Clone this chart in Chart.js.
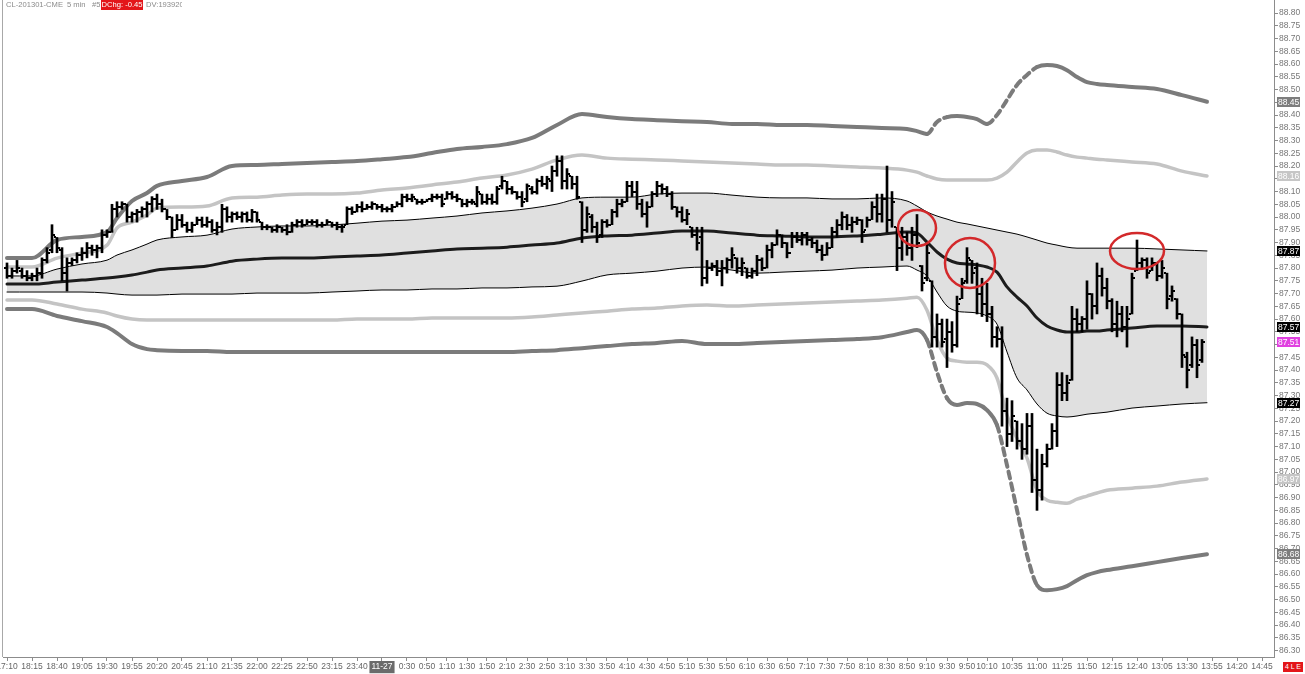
<!DOCTYPE html>
<html>
<head>
<meta charset="utf-8">
<script src="https://cdn.jsdelivr.net/npm/chart.js@4.4.0/dist/chart.umd.min.js"></script>
<style>
  html, body { margin: 0; padding: 0; background: #fff; }
  #wrap { position: relative; width: 1305px; height: 674px; overflow: hidden; }
  canvas { position: absolute; left: 0; top: 0; }
  .t { position: absolute; top: 0; height: 10px; font: 7.6px "Liberation Sans", Arial, sans-serif; color: #8a8a8a; line-height: 10px; white-space: nowrap; overflow: hidden; }
  .red { background: #e3161a; color: #fff; text-align: center; }
  #edge { position: absolute; left: 2px; top: 0; width: 1px; height: 657px; background: #a8a8a8; }
  #le { position: absolute; left: 1283px; top: 662px; width: 20px; height: 10px; background: #e3161a; color: #fff; font: 7px "Liberation Sans", Arial, sans-serif; line-height: 10px; text-align: center; }
</style>
</head>
<body>
<div id="wrap">
  <canvas id="chart" width="1305" height="674"></canvas>
  <div id="edge"></div>
  <div class="t" style="left:6px">CL-201301-CME</div>
  <div class="t" style="left:67px">5 min</div>
  <div class="t" style="left:92px">#5</div>
  <div class="t red" style="left:101px;width:42px">DChg: -0.45</div>
  <div class="t" style="left:146px;width:36px">DV:193920</div>
  <div id="le">4 L E</div>
</div>
<script>
// 5 min bars, index 0 = 17:10 ... 239 = 13:45
const highs = [
  87.82,87.80,87.83,87.80,87.79,87.78,87.80,87.84,87.88,87.97,
  87.92,87.88,87.84,87.84,87.86,87.88,87.90,87.89,87.89,87.95,
  87.95,88.05,88.06,88.06,88.05,88.02,88.03,88.04,88.06,88.08,
  88.09,88.07,88.03,88.00,88.01,88.01,87.98,87.98,88.00,88.00,
  88.00,87.99,87.98,88.05,88.04,88.02,88.02,88.02,88.02,88.03,
  88.02,87.98,87.97,87.96,87.97,87.96,87.97,87.98,87.99,87.99,
  87.99,87.99,87.99,87.98,87.99,87.98,87.98,87.97,88.04,88.04,
  88.05,88.06,88.05,88.06,88.05,88.05,88.04,88.05,88.06,88.09,
  88.09,88.09,88.07,88.07,88.07,88.09,88.09,88.09,88.10,88.10,
  88.09,88.07,88.07,88.07,88.12,88.09,88.09,88.09,88.12,88.16,
  88.14,88.12,88.10,88.10,88.13,88.12,88.15,88.16,88.16,88.20,
  88.24,88.24,88.19,88.16,88.16,88.06,88.04,88.01,87.98,87.99,
  87.99,88.03,88.07,88.07,88.14,88.14,88.14,88.07,88.06,88.10,
  88.14,88.13,88.12,88.10,88.04,88.04,88.03,87.96,87.96,87.96,
  87.83,87.82,87.83,87.83,87.84,87.88,87.84,87.84,87.80,87.80,
  87.85,87.84,87.89,87.90,87.95,87.93,87.90,87.94,87.94,87.94,
  87.94,87.92,87.91,87.89,87.90,87.96,87.99,88.02,88.01,88.00,
  88.00,87.99,88.00,88.06,88.09,88.09,88.20,88.10,87.96,87.96,
  87.94,87.96,88.01,87.81,87.90,87.75,87.62,87.60,87.60,87.59,
  87.69,87.76,87.88,87.83,87.82,87.76,87.74,87.65,87.57,87.57,
  87.29,87.28,87.20,87.19,87.23,87.23,87.09,87.07,87.11,87.19,
  87.39,87.39,87.38,87.65,87.64,87.61,87.75,87.70,87.82,87.80,
  87.76,87.68,87.67,87.65,87.65,87.78,87.91,87.84,87.84,87.84,
  87.82,87.83,87.78,87.73,87.68,87.62,87.47,87.53,87.52,87.52
];
const lows = [
  87.76,87.76,87.78,87.76,87.75,87.75,87.75,87.76,87.82,87.86,
  87.86,87.75,87.71,87.81,87.82,87.83,87.84,87.85,87.84,87.86,
  87.92,87.94,88.00,88.03,87.98,87.98,87.98,88.00,88.00,88.02,
  88.03,88.02,87.99,87.92,87.95,87.96,87.94,87.94,87.97,87.96,
  87.96,87.94,87.93,87.94,87.98,87.98,87.99,87.98,87.98,87.98,
  87.98,87.95,87.95,87.94,87.94,87.94,87.93,87.94,87.96,87.96,
  87.97,87.97,87.96,87.96,87.97,87.96,87.95,87.94,87.97,88.01,
  88.02,88.02,88.03,88.03,88.03,88.02,88.02,88.02,88.04,88.04,
  88.06,88.06,88.05,88.05,88.06,88.06,88.07,88.04,88.07,88.07,
  88.06,88.04,88.04,88.05,88.04,88.05,88.05,88.05,88.05,88.11,
  88.09,88.09,88.07,88.04,88.06,88.09,88.09,88.12,88.11,88.10,
  88.16,88.11,88.11,88.11,88.07,87.90,87.94,87.94,87.90,87.92,
  87.96,87.97,88.00,88.04,88.06,88.08,88.03,88.00,87.96,88.04,
  88.08,88.09,88.08,88.03,88.00,87.98,87.97,87.92,87.87,87.73,
  87.74,87.79,87.77,87.73,87.78,87.80,87.78,87.77,87.76,87.76,
  87.77,87.79,87.80,87.84,87.89,87.88,87.84,87.88,87.90,87.89,
  87.89,87.88,87.86,87.83,87.85,87.88,87.92,87.95,87.95,87.94,
  87.97,87.90,87.96,87.99,87.98,87.98,87.94,87.96,87.79,87.83,
  87.85,87.83,87.88,87.71,87.75,87.49,87.49,87.49,87.41,87.47,
  87.49,87.68,87.74,87.74,87.62,87.61,87.59,87.49,87.49,87.18,
  87.10,87.12,87.09,87.05,87.07,86.92,86.85,86.89,87.02,87.09,
  87.10,87.28,87.28,87.36,87.55,87.55,87.56,87.60,87.62,87.69,
  87.64,87.55,87.53,87.55,87.49,87.62,87.79,87.80,87.76,87.79,
  87.75,87.76,87.64,87.67,87.60,87.41,87.33,87.41,87.37,87.43
];
const opens = [
  87.80,87.77,87.79,87.79,87.77,87.76,87.77,87.78,87.83,87.87,
  87.92,87.87,87.78,87.82,87.83,87.85,87.86,87.88,87.87,87.88,
  87.93,87.94,88.03,88.04,88.05,88.00,88.01,88.02,88.03,88.05,
  88.07,88.05,88.03,88.00,87.95,87.99,87.97,87.95,87.97,87.99,
  87.97,87.98,87.95,87.96,88.03,88.00,88.01,88.00,88.01,87.99,
  88.02,87.98,87.96,87.96,87.95,87.96,87.95,87.94,87.97,87.98,
  87.97,87.98,87.98,87.97,87.97,87.98,87.97,87.96,87.97,88.03,
  88.02,88.04,88.03,88.04,88.05,88.04,88.03,88.03,88.04,88.05,
  88.08,88.07,88.07,88.06,88.06,88.07,88.08,88.08,88.07,88.09,
  88.08,88.07,88.05,88.06,88.05,88.09,88.06,88.07,88.06,88.12,
  88.14,88.11,88.10,88.08,88.07,88.11,88.10,88.14,88.13,88.14,
  88.18,88.22,88.14,88.16,88.13,88.06,87.95,88.00,87.96,87.93,
  87.98,87.97,88.02,88.05,88.06,88.12,88.10,88.05,88.01,88.04,
  88.09,88.12,88.11,88.09,88.04,88.02,87.99,87.96,87.93,87.92,
  87.76,87.80,87.81,87.79,87.80,87.83,87.84,87.80,87.80,87.77,
  87.79,87.83,87.80,87.87,87.89,87.93,87.90,87.86,87.92,87.91,
  87.93,87.91,87.90,87.87,87.85,87.88,87.94,87.97,88.00,87.97,
  87.98,87.99,87.95,87.99,88.04,88.01,88.07,87.99,87.96,87.88,
  87.92,87.88,87.93,87.81,87.76,87.75,87.53,87.58,87.52,87.55,
  87.50,87.68,87.75,87.83,87.80,87.70,87.66,87.62,87.53,87.52,
  87.24,87.15,87.20,87.12,87.09,87.18,86.97,86.93,87.03,87.09,
  87.16,87.34,87.31,87.36,87.60,87.58,87.60,87.70,87.65,87.77,
  87.72,87.67,87.58,87.62,87.57,87.62,87.79,87.82,87.83,87.79,
  87.82,87.77,87.78,87.69,87.68,87.62,87.45,87.42,87.50,87.44
];
const closes = [
  87.77,87.79,87.80,87.77,87.76,87.77,87.78,87.83,87.86,87.93,
  87.88,87.78,87.82,87.83,87.85,87.86,87.88,87.87,87.88,87.93,
  87.94,88.03,88.04,88.05,88.00,88.01,88.02,88.03,88.05,88.07,
  88.05,88.03,88.00,87.95,87.99,87.97,87.95,87.97,87.99,87.97,
  87.98,87.95,87.96,88.03,88.00,88.01,88.00,88.01,87.99,88.02,
  87.99,87.96,87.96,87.95,87.96,87.95,87.94,87.97,87.98,87.97,
  87.98,87.98,87.97,87.97,87.98,87.97,87.96,87.96,88.03,88.02,
  88.04,88.03,88.04,88.05,88.04,88.03,88.03,88.04,88.05,88.08,
  88.07,88.08,88.06,88.06,88.07,88.08,88.08,88.05,88.09,88.08,
  88.07,88.05,88.06,88.06,88.10,88.06,88.07,88.06,88.11,88.14,
  88.11,88.10,88.08,88.06,88.12,88.10,88.14,88.13,88.15,88.18,
  88.22,88.14,88.17,88.13,88.08,87.95,88.01,87.96,87.92,87.98,
  87.97,88.02,88.05,88.06,88.12,88.10,88.05,88.01,88.04,88.09,
  88.12,88.11,88.09,88.04,88.02,87.99,88.01,87.93,87.90,87.76,
  87.80,87.81,87.79,87.80,87.83,87.85,87.80,87.82,87.77,87.79,
  87.83,87.80,87.87,87.89,87.93,87.90,87.86,87.92,87.91,87.93,
  87.91,87.90,87.87,87.85,87.88,87.94,87.97,88.00,87.97,87.98,
  87.99,87.94,87.99,88.04,88.01,88.07,87.99,88.06,87.88,87.92,
  87.88,87.93,87.90,87.74,87.86,87.53,87.58,87.51,87.55,87.50,
  87.66,87.74,87.84,87.78,87.70,87.66,87.62,87.53,87.52,87.24,
  87.15,87.22,87.12,87.09,87.18,86.97,86.93,87.03,87.09,87.16,
  87.34,87.31,87.35,87.60,87.58,87.60,87.70,87.65,87.77,87.72,
  87.67,87.58,87.62,87.57,87.60,87.76,87.82,87.83,87.78,87.82,
  87.77,87.80,87.68,87.71,87.62,87.46,87.40,87.50,87.42,87.51
];

// bar index at which the band values were read
const bandIdx = [0,5,10,15,20,22,25,28,30,35,40,45,50,55,60,65,70,75,80,85,90,95,100,105,110,115,120,125,130,135,140,145,150,155,160,165,170,175,180,
  182,184,186,188,190,192,194,196,198,200,202,204,206,208,210,212,214,216,218,220,225,230,235,240];
const outerUpper = [87.839,87.839,87.910,87.922,87.941,87.996,88.063,88.094,88.122,
  88.141,88.157,88.200,88.204,88.208,88.212,88.216,88.220,88.227,88.235,88.251,88.267,88.275,88.286,88.310,88.361,88.404,88.392,88.384,88.380,88.376,88.373,88.365,88.365,88.361,88.361,88.357,88.353,88.349,88.345,
  88.337,88.326,88.373,88.392,88.396,88.392,88.384,88.365,88.400,88.459,88.518,88.557,88.588,88.596,88.592,88.576,88.549,88.529,88.522,88.518,
  88.510,88.502,88.478,88.452];
const innerUpper = [87.804,87.804,87.839,87.859,87.890,87.957,87.980,88.008,88.035,
  88.039,88.043,88.075,88.078,88.086,88.090,88.090,88.094,88.106,88.114,88.126,88.137,88.153,88.165,88.188,88.224,88.243,88.231,88.227,88.224,88.220,88.216,88.212,88.208,88.204,88.204,88.200,88.196,88.192,88.184,
  88.176,88.161,88.149,88.145,88.145,88.145,88.145,88.145,88.153,88.176,88.216,88.251,88.263,88.263,88.255,88.243,88.235,88.231,88.227,88.224,
  88.216,88.208,88.180,88.161];
const sigmaUpper = [87.769,87.769,87.796,87.816,87.831,87.851,87.871,87.894,87.910,
  87.922,87.929,87.953,87.961,87.965,87.965,87.969,87.976,87.984,87.988,87.996,88.004,88.016,88.024,88.035,88.051,88.075,88.078,88.078,88.090,88.094,88.094,88.086,88.078,88.075,88.075,88.071,88.071,88.075,88.063,
  88.043,88.020,88.004,87.992,87.980,87.973,87.965,87.957,87.949,87.941,87.933,87.922,87.910,87.898,87.890,87.882,87.878,87.878,87.878,87.878,
  87.878,87.875,87.871,87.867];
const vwap = [87.737,87.737,87.745,87.753,87.761,87.765,87.773,87.784,87.792,
  87.800,87.808,87.827,87.835,87.839,87.839,87.843,87.847,87.851,87.859,87.867,87.875,87.878,87.882,87.890,87.898,87.918,87.926,87.929,87.937,87.945,87.945,87.937,87.929,87.926,87.922,87.922,87.926,87.933,87.941,
  87.937,87.902,87.863,87.835,87.820,87.816,87.812,87.804,87.784,87.726,87.686,87.651,87.604,87.573,87.557,87.549,87.549,87.553,87.553,87.557,
  87.565,87.573,87.573,87.569];
const sigmaLower = [87.706,87.706,87.706,87.706,87.702,87.698,87.694,87.694,87.694,
  87.698,87.698,87.698,87.702,87.702,87.702,87.706,87.710,87.714,87.714,87.718,87.718,87.722,87.722,87.726,87.729,87.749,87.773,87.780,87.788,87.800,87.804,87.792,87.780,87.784,87.788,87.792,87.800,87.804,87.808,
  87.792,87.769,87.706,87.651,87.631,87.627,87.624,87.612,87.580,87.471,87.369,87.322,87.267,87.231,87.220,87.216,87.220,87.227,87.231,87.235,
  87.251,87.259,87.267,87.272];
const innerLower = [87.675,87.675,87.659,87.639,87.624,87.612,87.600,87.596,87.596,
  87.596,87.596,87.596,87.596,87.596,87.596,87.596,87.600,87.600,87.600,87.604,87.604,87.604,87.604,87.608,87.616,87.624,87.631,87.639,87.643,87.651,87.655,87.651,87.655,87.659,87.663,87.667,87.671,87.675,87.682,
  87.686,87.635,87.518,87.447,87.435,87.431,87.431,87.420,87.369,87.224,87.133,87.055,86.929,86.890,86.882,86.878,86.894,86.906,86.918,86.929,
  86.937,86.945,86.961,86.973];
const outerLower = [87.639,87.639,87.612,87.592,87.569,87.545,87.502,87.482,87.478,
  87.475,87.475,87.471,87.471,87.471,87.471,87.471,87.471,87.471,87.471,87.471,87.471,87.471,87.471,87.475,87.478,87.486,87.494,87.502,87.506,87.514,87.502,87.502,87.506,87.510,87.514,87.518,87.522,87.529,87.549,
  87.557,87.518,87.392,87.290,87.263,87.271,87.267,87.243,87.184,87.027,86.851,86.675,86.557,86.537,86.541,86.553,86.576,86.596,86.608,86.616,
  86.631,86.647,86.663,86.678];

// time axis labels and the bar index they sit on
const xTickIdx = [0,5,10,15,20,25,30,35,40,45,50,55,60,65,70,75,
  80,84,88,92,96,100,104,108,112,116,120,124,128,132,136,140,144,148,152,156,160,164,168,172,176,180,184,188,192,196,
  201,206,211,216,221,226,231,236,241,246,251];
const xTickLabels = ["17:10","18:15","18:40","19:05","19:30","19:55","20:20","20:45","21:10","21:35","22:00","22:25","22:50","23:15","23:40","11-27",
  "0:30","0:50","1:10","1:30","1:50","2:10","2:30","2:50","3:10","3:30","3:50","4:10","4:30","4:50","5:10","5:30","5:50","6:10","6:30","6:50","7:10","7:30","7:50","8:10","8:30","8:50","9:10","9:30","9:50","10:10",
  "10:35","11:00","11:25","11:50","12:15","12:40","13:05","13:30","13:55","14:20","14:45"];

// marked highs
const markIdx = [182, 192.6, 226];
const markPrice = [87.957, 87.820, 87.867];

const pts = arr => bandIdx.map((x, k) => ({ x: x, y: arr[k] }));
const dashIn = ranges => ctx => {
  const v = bandIdx[ctx.p0DataIndex];
  return ranges.some(r => v >= r[0] && v < r[1]) ? [7, 5] : undefined;
};
const band = (label, arr, color, width, order, extra) => Object.assign({
  type: 'line', label: label, data: pts(arr), borderColor: color, borderWidth: width,
  pointRadius: 0, cubicInterpolationMode: 'monotone', borderCapStyle: 'round',
  borderJoinStyle: 'round', fill: false, order: order
}, extra || {});

const FONT = { family: '"Liberation Sans", Arial, sans-serif', size: 8.5 };

// pin the plot box to the same pixels as the original platform
const pinArea = {
  id: 'pinArea',
  afterLayout(chart) {
    const ca = chart.chartArea;
    ca.left = 3; ca.right = 1274; ca.top = 0; ca.bottom = 657;
    ca.width = 1271; ca.height = 657;
    const { x, y } = chart.scales;
    x.left = 3; x.right = 1274; x.width = 1271; x.top = 657; x.bottom = 674; x.height = 17;
    y.left = 1274; y.right = 1305; y.width = 31; y.top = 0; y.bottom = 657; y.height = 657;
    x.configure();
    y.configure();
  }
};

const ohlcTicks = {
  id: 'ohlcTicks',
  afterDatasetsDraw(chart) {
    const { ctx, scales: { x, y } } = chart;
    ctx.save();
    ctx.fillStyle = '#000';
    opens.forEach((o, i) => {
      const px = Math.round(x.getPixelForValue(i));
      ctx.fillRect(px - 3, Math.round(y.getPixelForValue(o)) - 1, 2, 2);
      ctx.fillRect(px + 1, Math.round(y.getPixelForValue(closes[i])) - 1, 2, 2);
    });
    const radii = [[19, 18], [25, 25], [27, 18]];
    ctx.strokeStyle = '#d3292b';
    ctx.lineWidth = 2.5;
    markIdx.forEach((m, k) => {
      ctx.beginPath();
      ctx.ellipse(x.getPixelForValue(m), y.getPixelForValue(markPrice[k]), radii[k][0], radii[k][1], 0, 0, Math.PI * 2);
      ctx.stroke();
    });
    ctx.restore();
  }
};

const lastTags = {
  id: 'lastTags',
  afterDraw(chart) {
    const { ctx, scales: { y } } = chart;
    const last = a => a[a.length - 1];
    const tags = [
      [last(outerUpper), '#7d7d7d'], [last(innerUpper), '#c6c6c6'], [last(sigmaUpper), '#000'],
      [last(vwap), '#000'], [last(closes), '#e040e0'], [last(sigmaLower), '#000'],
      [last(innerLower), '#c6c6c6'], [last(outerLower), '#7d7d7d']
    ];
    ctx.save();
    ctx.font = '8.5px "Liberation Sans", Arial, sans-serif';
    ctx.textBaseline = 'middle';
    tags.forEach(([v, bg]) => {
      const py = Math.round(y.getPixelForValue(v));
      ctx.fillStyle = bg;
      ctx.fillRect(1277, py - 5, 23, 10);
      ctx.fillStyle = '#fff';
      ctx.fillText(v.toFixed(2), 1278, py + 0.5);
    });
    ctx.restore();
  }
};

new Chart(document.getElementById('chart'), {
  data: {
    datasets: [
      {
        type: 'bar', label: 'CL', order: 1, grouped: false,
        data: highs.map((h, i) => ({ x: i, y: [lows[i], h] })),
        backgroundColor: '#000', borderWidth: 0, barThickness: 2
      },
      band('VWAP', vwap, '#1c1c1c', 3, 2),
      band('+1', sigmaUpper, '#000', 1, 3),
      band('-1', sigmaLower, '#000', 1, 3, { fill: { target: 2 }, backgroundColor: '#e0e0e0' }),
      band('+2', innerUpper, '#c4c4c4', 3.5, 4),
      band('-2', innerLower, '#c4c4c4', 3.5, 4),
      band('+3', outerUpper, '#7b7b7b', 4, 5, { segment: { borderDash: dashIn([[184, 188], [196, 206]]) } }),
      band('-3', outerLower, '#7b7b7b', 4, 5, { segment: { borderDash: dashIn([[184, 188], [198, 206]]) } })
    ]
  },
  options: {
    responsive: false,
    animation: false,
    devicePixelRatio: 1,
    layout: { padding: { left: 3, right: 0, top: 0, bottom: 0 } },
    plugins: { legend: { display: false }, tooltip: { enabled: false } },
    scales: {
      x: {
        type: 'linear', min: -0.8, max: 253.4, offset: false,
        border: { color: '#8c8c8c' },
        grid: { drawOnChartArea: false, offset: false, tickLength: 4, tickColor: '#8c8c8c' },
        afterBuildTicks: s => { s.ticks = xTickIdx.map(v => ({ value: v })); },
        afterFit: s => { s.height = 17; s.paddingLeft = 0; s.paddingRight = 0; },
        ticks: {
          autoSkip: false, maxRotation: 0, padding: 1, font: FONT,
          color: c => (c.tick && c.tick.value === 75 ? '#fff' : '#666'),
          showLabelBackdrop: c => !!(c.tick && c.tick.value === 75),
          backdropColor: '#6b6b6b', backdropPadding: { x: 2, y: 1 },
          callback: (v, i) => xTickLabels[i]
        }
      },
      y: {
        type: 'linear', position: 'right', min: 86.275, max: 88.851,
        border: { color: '#8c8c8c' },
        grid: { drawOnChartArea: false, tickLength: 4, tickColor: '#8c8c8c' },
        afterBuildTicks: s => { s.ticks = s.ticks.filter(t => t.value < 88.81); },
        afterFit: s => { s.width = 31; s.paddingTop = 0; s.paddingBottom = 0; },
        ticks: {
          stepSize: 0.05, includeBounds: false, autoSkip: false, padding: 1,
          font: FONT, color: '#777', callback: v => v.toFixed(2)
        }
      }
    }
  },
  plugins: [pinArea, ohlcTicks, lastTags]
});
</script>
</body>
</html>
